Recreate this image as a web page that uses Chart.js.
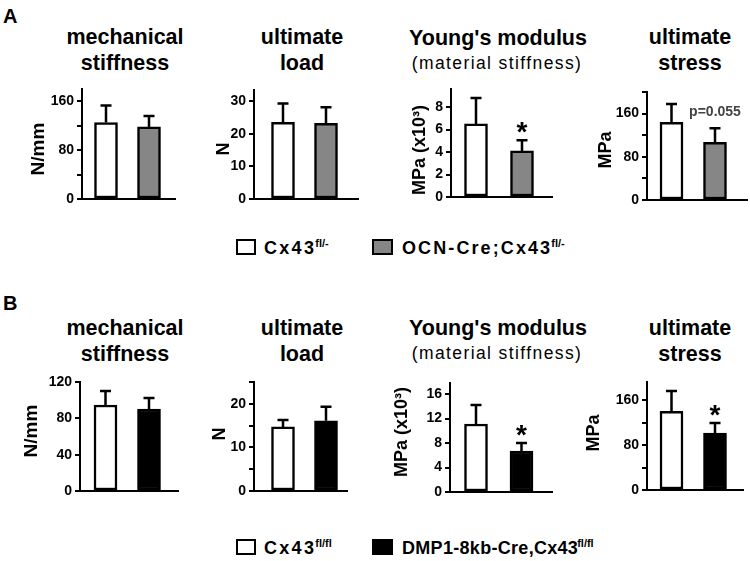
<!DOCTYPE html>
<html><head><meta charset="utf-8">
<script src="https://cdn.jsdelivr.net/npm/chart.js@4/dist/chart.umd.min.js"></script>
<style>
body{margin:0;background:#fff}
#root{position:relative;width:750px;height:561px;overflow:hidden;background:#fff;font-family:"Liberation Sans",Arial,sans-serif;color:#000}
.t{position:absolute;white-space:nowrap;line-height:1;font-weight:bold}
.r{position:absolute;white-space:nowrap;line-height:1;font-weight:bold;transform:translate(-50%,-50%) rotate(-90deg)}
canvas{position:absolute}
.box{position:absolute;box-sizing:border-box;border:2px solid #000}
sup{font-size:11px;vertical-align:0;position:relative;top:-7px;letter-spacing:0;margin-left:-1px}
</style></head><body><div id="root"></div>
<script>
// ---------- data ----------
const groupsA = ['Cx43fl/-', 'OCN-Cre;Cx43fl/-'];
const groupsB = ['Cx43fl/fl', 'DMP1-8kb-Cre,Cx43fl/fl'];
const measureTitles = [['mechanical', 'stiffness'], ['ultimate', 'load'], ["Young's modulus", '(material stiffness)'], ['ultimate', 'stress']];
const unitLabels = ['N/mm', 'N', 'MPa (x10³)', 'MPa'];

const meanA_ctrl = [125, 23.5, 6.5, 144];
const sdA_ctrl   = [28, 5.8, 2.3, 34];
const meanA_ko   = [118, 23.2, 4.1, 107];
const sdA_ko     = [18, 4.9, 0.95, 26];

const meanB_ctrl = [94.7, 14.7, 11.1, 140];
const sdB_ctrl   = [15.3, 1.6, 3.1, 36];
const meanB_ko   = [90.3, 16.1, 6.7, 101];
const sdB_ko     = [12.1, 3.2, 1.3, 18];

const axisMaxA = [180, 33.4, 9.6, 200];
const axisMaxB = [120, 25, 17.8, 192];
const tickStepA = [40, 5, 2, 40];
const tickStepB = [40, 5, 4, 40];
const labeledTicksA = [[0, 80, 160], [0, 10, 20, 30], [0, 2, 4, 6, 8], [0, 80, 160]];
const labeledTicksB = [[0, 40, 80, 120], [0, 10, 20], [0, 4, 8, 12, 16], [0, 80, 160]];
const sigA = ['', '', '*', 'p=0.055'];
const sigB = ['', '', '*', '*'];

// ---------- layout (pixels) ----------
const FONT = '"Liberation Sans", Arial, sans-serif';
const framesA = [
  {ax: 82, top: 89, bot: 199, end: 175, c: [106, 149]},
  {ax: 254, top: 90, bot: 199, end: 358, c: [283, 326]},
  {ax: 451, top: 89, bot: 197, end: 552, c: [476, 522]},
  {ax: 647, top: 92, bot: 200, end: 747, c: [671.5, 715]}
];
const framesB = [
  {ax: 80, top: 382, bot: 491, end: 178, c: [105.5, 149]},
  {ax: 254, top: 382, bot: 491, end: 347, c: [283, 326]},
  {ax: 450, top: 383, bot: 492, end: 552, c: [476, 521.5]},
  {ax: 647, top: 382, bot: 490, end: 743, c: [671.5, 715]}
];
const titleX = [125, 302, 498, 690];
const unitPosA = [[37, 149], [223, 149], [419, 150], [605, 150]];
const unitPosB = [[30, 431], [219, 434], [401, 432], [593, 433]];

const root = document.getElementById('root');
function addText(html, x, y, size, cls, extra) {
  const d = document.createElement('div');
  d.className = cls;
  d.innerHTML = html;
  d.style.fontSize = size + 'px';
  d.style.left = x + 'px';
  d.style.top = y + 'px';
  if (extra) Object.assign(d.style, extra);
  root.appendChild(d);
  return d;
}
// title centred at x, with baseline at y
function addTitle(text, x, baseline, size, weight, spacing) {
  return addText(text, x, baseline - 0.8465 * size, size, 't',
    {transform: 'translateX(-50%)', fontWeight: weight || 'bold', letterSpacing: (spacing || 0) + 'px'});
}

const LW = 50, PT = 12, PB = 4, PR = 4;
function makePanel(fr, means, sds, fills, max, step, labeled, sig) {
  const cv = document.createElement('canvas');
  const w = LW + (fr.end - fr.ax) + PR;
  const h = PT + (fr.bot - fr.top) + PB;
  cv.width = w; cv.height = h;
  cv.style.left = (fr.ax - LW) + 'px';
  cv.style.top = (fr.top - PT) + 'px';
  cv.style.width = w + 'px'; cv.style.height = h + 'px';
  root.appendChild(cv);
  const unit = fr.c[1] - fr.c[0];
  const xmin = 1 - (fr.c[0] - fr.ax) / unit;
  const xmax = 1 + (fr.end - fr.c[0]) / unit;
  const errPlugin = {
    id: 'errbars',
    afterDatasetsDraw(chart) {
      const ctx = chart.ctx, ys = chart.scales.y;
      const meta = chart.getDatasetMeta(0);
      ctx.save();
      ctx.strokeStyle = '#000';
      ctx.lineWidth = 2.5;
      meta.data.forEach((bar, i) => {
        const topPx = ys.getPixelForValue(means[i] + sds[i]);
        ctx.beginPath();
        ctx.moveTo(bar.x, bar.y);
        ctx.lineTo(bar.x, topPx);
        ctx.moveTo(bar.x - 5.5, topPx);
        ctx.lineTo(bar.x + 5.5, topPx);
        ctx.stroke();
        if (i === 1 && sig) {
          if (sig === '*') {
            ctx.fillStyle = '#000';
            ctx.font = 'bold 28px ' + FONT;
            ctx.textAlign = 'center';
            ctx.textBaseline = 'alphabetic';
            ctx.fillText('*', bar.x, topPx + 1);
          } else {
            ctx.fillStyle = '#444';
            ctx.font = 'bold 14px ' + FONT;
            ctx.textAlign = 'center';
            ctx.textBaseline = 'middle';
            ctx.fillText(sig, bar.x, topPx - 16);
          }
        }
      });
      ctx.restore();
    }
  };
  return new Chart(cv, {
    type: 'bar',
    data: {
      datasets: [{
        data: [{x: 1, y: means[0]}, {x: 2, y: means[1]}],
        backgroundColor: fills,
        borderColor: '#000',
        borderWidth: 2.5,
        borderSkipped: false,
        barThickness: 23
      }]
    },
    options: {
      responsive: false, animation: false, devicePixelRatio: 1,
      layout: {padding: {top: PT, bottom: PB, left: 0, right: PR}},
      plugins: {legend: {display: false}, tooltip: {enabled: false}, title: {display: false}},
      scales: {
        x: {
          type: 'linear', min: xmin, max: xmax, offset: false,
          ticks: {display: false}, grid: {display: false},
          border: {display: true, color: '#000', width: 2},
          afterFit(s) { s.height = 0; s.paddingLeft = 0; s.paddingRight = 0; }
        },
        y: {
          min: 0, max: max,
          ticks: {
            stepSize: step, includeBounds: false, padding: 3, color: '#000',
            font: {family: FONT, size: 14, weight: 'bold'},
            callback: (v) => labeled.includes(v) ? String(v) : ''
          },
          grid: {display: true, drawOnChartArea: false, drawTicks: true, tickLength: 5, lineWidth: 2, color: '#000'},
          border: {display: true, color: '#000', width: 2},
          afterFit(s) { s.width = LW; s.paddingTop = 0; s.paddingBottom = 0; }
        }
      }
    },
    plugins: [errPlugin]
  });
}

for (let i = 0; i < 4; i++) {
  makePanel(framesA[i], [meanA_ctrl[i], meanA_ko[i]], [sdA_ctrl[i], sdA_ko[i]], ['#ffffff', '#868686'],
    axisMaxA[i], tickStepA[i], labeledTicksA[i], sigA[i]);
  makePanel(framesB[i], [meanB_ctrl[i], meanB_ko[i]], [sdB_ctrl[i], sdB_ko[i]], ['#ffffff', '#000000'],
    axisMaxB[i], tickStepB[i], labeledTicksB[i], sigB[i]);
}

// panel letters
addText('A', 3, 23 - 0.8465 * 20, 20, 't');
addText('B', 3, 310 - 0.8465 * 20, 20, 't');

// titles
const baseA = [45, 71], baseB = [336.5, 362];
for (let i = 0; i < 4; i++) {
  const [l1, l2] = measureTitles[i];
  if (i === 2) {
    addTitle(l1, titleX[i], 46, 21.5);
    addTitle(l1, titleX[i], 336, 21.5);
    addTitle(l2, titleX[i] - 1, 69.5, 17.5, 'normal', 1.4);
    addTitle(l2, titleX[i] - 1, 359.5, 17.5, 'normal', 1.4);
  } else {
    addTitle(l1, titleX[i], baseA[0], 21.5);
    addTitle(l2, titleX[i], baseA[1], 21.5);
    addTitle(l1, titleX[i], baseB[0], 21.5);
    addTitle(l2, titleX[i], baseB[1], 21.5);
  }
  addText(unitLabels[i], unitPosA[i][0], unitPosA[i][1], i === 0 ? 19 : 18, 'r');
  addText(unitLabels[i], unitPosB[i][0], unitPosB[i][1], i === 0 ? 19 : 18, 'r');
}

// legends
function legendLabel(name) {
  return name.replace(/(Cx43)(fl\/.+)$/, '$1<sup>$2</sup>');
}
function addLegend(groups, fill, boxTop, baseline, spacing1, spacing2) {
  const b1 = document.createElement('div');
  b1.className = 'box';
  Object.assign(b1.style, {left: '236px', top: boxTop + 'px', width: '20px', height: '16px', background: '#fff'});
  root.appendChild(b1);
  addText(legendLabel(groups[0]), 264, baseline - 0.8465 * 18, 18, 't', {letterSpacing: spacing1 + 'px'});
  const b2 = document.createElement('div');
  b2.className = 'box';
  Object.assign(b2.style, {left: '372px', top: boxTop + 'px', width: '21px', height: '16px', background: fill});
  root.appendChild(b2);
  addText(legendLabel(groups[1]), 402, baseline - 0.8465 * 18, 18, 't', {letterSpacing: spacing2 + 'px'});
}
addLegend(groupsA, '#868686', 239, 254, 2.3, 2.1);
addLegend(groupsB, '#000000', 539, 554, 2.3, 0.3);
</script></body></html>
